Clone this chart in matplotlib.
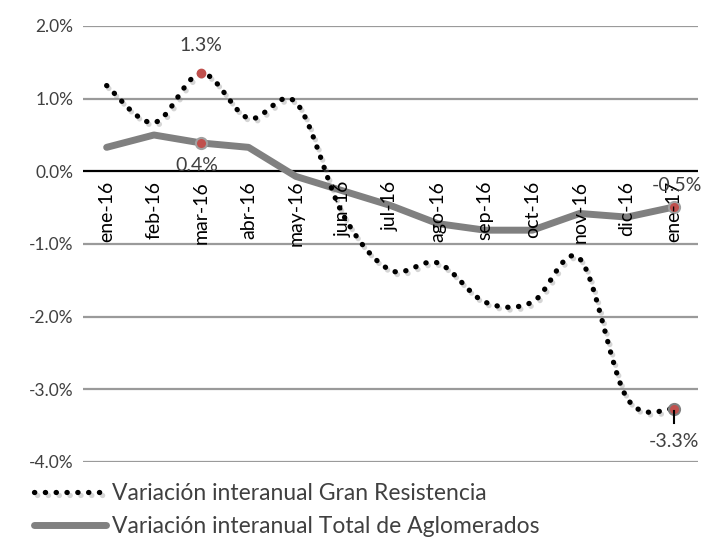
import numpy as np
import matplotlib.pyplot as plt
import matplotlib.patheffects as pe
from matplotlib.ticker import FuncFormatter

plt.rcParams['font.family'] = ['Lato', 'DejaVu Sans']

months = ['ene-16', 'feb-16', 'mar-16', 'abr-16', 'may-16', 'jun-16', 'jul-16',
          'ago-16', 'sep-16', 'oct-16', 'nov-16', 'dic-16', 'ene-17']
gran_resistencia = [1.18, 0.67, 1.35, 0.73, 0.95, -0.60, -1.36, -1.26,
                    -1.80, -1.80, -1.20, -3.12, -3.27]
total_aglomerados = [0.33, 0.50, 0.39, 0.33, -0.07, -0.27, -0.47, -0.72,
                     -0.81, -0.81, -0.58, -0.63, -0.49]


def smooth(x, y, n=20):
    # Catmull-Rom curve through the points, like Excel's smoothed line
    x = np.asarray(x, float)
    y = np.asarray(y, float)
    px = np.concatenate([[x[0]], x, [x[-1]]])
    py = np.concatenate([[y[0]], y, [y[-1]]])
    xs, ys = [], []
    t = np.linspace(0, 1, n, endpoint=False)
    for i in range(1, len(px) - 2):
        for p, out in ((px, xs), (py, ys)):
            p0, p1, p2, p3 = p[i - 1], p[i], p[i + 1], p[i + 2]
            out.extend(0.5 * (2 * p1 + (-p0 + p2) * t
                              + (2 * p0 - 5 * p1 + 4 * p2 - p3) * t ** 2
                              + (-p0 + 3 * p1 - 3 * p2 + p3) * t ** 3))
    xs.append(x[-1])
    ys.append(y[-1])
    return np.array(xs), np.array(ys)


fig = plt.figure(figsize=(7.18, 5.37), dpi=100)
ax = fig.add_axes([0.1156, 0.1397, 0.8564, 0.8119])

x = np.arange(len(months))

for v in np.arange(-4, 2.5, 1):
    if v != 0:
        ax.axhline(v, color='#9a9a9a', lw=1.6, zorder=1)
ax.axhline(0, color='black', lw=1.6, zorder=2)

sx, sy = smooth(x, gran_resistencia)
ax.plot(sx, sy, color='black', lw=3.8, linestyle=(0, (0.05, 2.0)),
        dash_capstyle='round', zorder=4,
        path_effects=[pe.SimpleLineShadow(offset=(1.5, -2), shadow_color='#888888', alpha=0.35),
                      pe.Normal()],
        label='Variación interanual Gran Resistencia')
ax.plot(x, total_aglomerados, color='#808080', lw=5, solid_joinstyle='round',
        solid_capstyle='round', zorder=3,
        label='Variación interanual Total de Aglomerados')

# highlighted points
ax.plot(x[2], gran_resistencia[2], 'o', ms=6, color='#c0504d', zorder=5)
ax.plot(x[-1], gran_resistencia[-1], 'o', ms=8, mfc='#c0504d', mec='#808080', mew=1.5, zorder=5)
ax.plot(x[2], total_aglomerados[2], 'o', ms=8, mfc='#c0504d', mec='#a0a0a0', mew=1.5, zorder=5)
ax.plot(x[-1], total_aglomerados[-1], 'o', ms=8, mfc='#c0504d', mec='#a0a0a0', mew=1.5, zorder=5)

lab_kw = dict(fontsize=14, color='#404040', ha='center', zorder=8)
ax.text(x[2], 1.73, '1.3%', va='center', **lab_kw)
ax.text(x[2] - 0.1, 0.08, '0.4%', va='center', **lab_kw)
ax.text(x[-1] + 0.05, -0.19, '-0.5%', va='center', **lab_kw)
ax.text(x[-1], -3.72, '-3.3%', va='center', **lab_kw)
ax.plot([x[-1], x[-1]], [-3.3, -3.47], color='black', lw=1.5, zorder=6)

ax.set_xlim(-0.5, len(months) - 0.5)
ax.set_ylim(-4, 2)
ax.set_yticks(np.arange(-4, 2.5, 1))
ax.yaxis.set_major_formatter(FuncFormatter(lambda v, p: f'{v:.1f}%'))
ax.tick_params(axis='y', length=0, pad=7, labelsize=12.5, labelcolor='#404040')
ax.set_xticks([])
for s in ax.spines.values():
    s.set_visible(False)

for xi, m in zip(x, months):
    ax.text(xi, -0.13, m, rotation=90, ha='center', va='top', fontsize=14,
            color='black', zorder=7)

leg = fig.legend(loc='upper left', bbox_to_anchor=(0.048, 0.101), frameon=False,
                 fontsize=16.5, handlelength=3.1, labelspacing=0.55, handletextpad=0.3,
                 borderaxespad=0, borderpad=0, bbox_transform=fig.transFigure)
for t in leg.get_texts():
    t.set_color('#404040')

fig.savefig('out.png', dpi=100)
